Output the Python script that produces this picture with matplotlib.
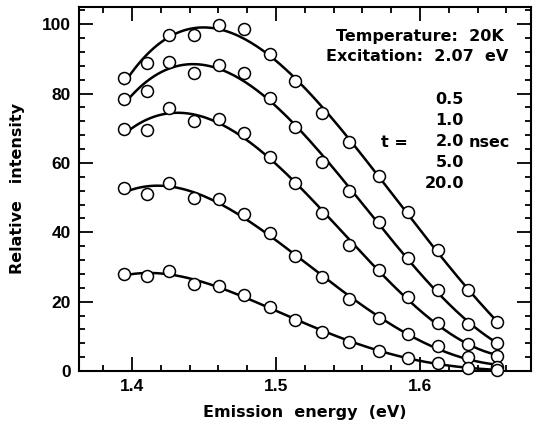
import numpy as np
import matplotlib
matplotlib.use('Agg')
import matplotlib.pyplot as plt
from matplotlib.ticker import MultipleLocator

plt.rcParams['font.family'] = ['Liberation Sans', 'DejaVu Sans']

# photon energies of the measured points (eV)
energy = [1.3944, 1.4108, 1.4260, 1.4431, 1.4604, 1.4778, 1.4958, 1.5135,
          1.5319, 1.5507, 1.5715, 1.5917, 1.6122, 1.6333, 1.6535]

# relative intensity for each delay time
t_05 = [84.4, 88.8, 96.9, 96.9, 99.8, 98.6, 91.3, 83.6, 74.5, 66.1, 56.2, 45.9, 34.9, 23.4, 14.1]
t_10 = [78.4, 80.6, 89.0, 85.9, 88.3, 85.9, 78.7, 70.3, 60.4, 52.0, 43.1, 32.7, 23.5, 13.6, 8.1]
t_20 = [69.8, 69.5, 75.8, 72.1, 72.7, 68.6, 61.8, 54.3, 45.5, 36.3, 29.1, 21.4, 13.8, 7.7, 4.4]
t_50 = [52.7, 51.1, 54.1, 49.8, 49.5, 45.2, 39.7, 33.3, 27.2, 20.7, 15.2, 10.6, 7.1, 4.1, 1.2]
t_200 = [27.9, 27.4, 28.8, 25.2, 24.5, 21.9, 18.5, 14.7, 11.3, 8.5, 5.9, 3.8, 2.3, 0.8, 0.3]

series = [t_05, t_10, t_20, t_50, t_200]
t_labels = ['0.5', '1.0', '2.0', '5.0', '20.0']

fig = plt.figure(figsize=(5.33, 4.25), dpi=100)
ax = fig.add_axes([0.148, 0.127, 0.848, 0.857])

x = np.array(energy)
xs = np.linspace(x[0], x[-1], 200)
for ys in series:
    # smooth fitted curve through the points
    coef = np.polyfit(x, ys, 4)
    ax.plot(xs, np.polyval(coef, xs), color='black', lw=1.8, zorder=2)
    ax.plot(x, ys, 'o', ms=8.6, mfc='white', mec='black', mew=1.1, zorder=3,
            clip_on=False)

ax.set_xlim(1.3632, 1.677)
ax.set_ylim(0, 105)
ax.xaxis.set_major_locator(MultipleLocator(0.1))
ax.xaxis.set_minor_locator(MultipleLocator(0.02))
ax.yaxis.set_major_locator(MultipleLocator(20))
ax.yaxis.set_minor_locator(MultipleLocator(4))
ax.tick_params(which='both', direction='in', top=True, right=True, width=1.3)
ax.tick_params(which='major', length=10, labelsize=12.5, pad=6)
ax.tick_params(which='minor', length=4.5)
for lab in ax.get_xticklabels() + ax.get_yticklabels():
    lab.set_fontweight('bold')
for sp in ax.spines.values():
    sp.set_linewidth(1.5)

txt = dict(fontsize=11.5, fontweight='bold', family='DejaVu Sans')
ax.set_xlabel('Emission  energy  (eV)', labelpad=8, **txt)
ax.set_ylabel('Relative   intensity', labelpad=12, **txt)

ax.text(0.754, 0.918, 'Temperature:  20K', transform=ax.transAxes, ha='center',
        va='center', **txt)
ax.text(0.749, 0.863, 'Excitation:  2.07  eV', transform=ax.transAxes, ha='center',
        va='center', **txt)
for i, lab in enumerate(t_labels):
    ax.text(1.6306, 78.2 - 6.06 * i, lab, ha='right', va='center', **txt)
ax.text(1.5826, 66.0, 't =', ha='center', va='center', **txt)
ax.text(1.6335, 66.0, 'nsec', ha='left', va='center', **txt)

fig.savefig('out.png', dpi=100)
